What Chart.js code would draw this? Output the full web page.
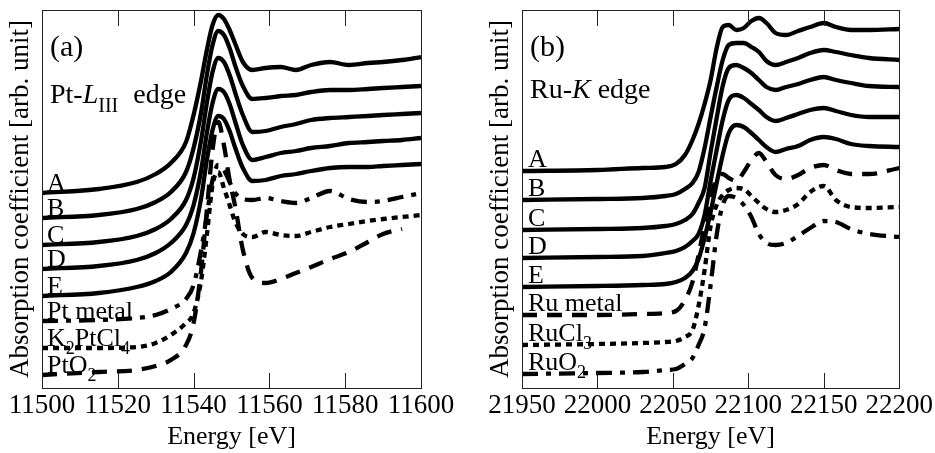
<!DOCTYPE html>
<html><head><meta charset="utf-8">
<script src="https://cdn.jsdelivr.net/npm/chart.js@4.4.0/dist/chart.umd.min.js"></script>
<style>
html,body{margin:0;padding:0;background:#fff;}
#wrap{position:relative;width:935px;height:453px;overflow:hidden;background:#fff;}
canvas{position:absolute;top:0;}
</style></head><body>
<div id="wrap">
<canvas id="c1" width="468" height="453" style="left:0;width:468px;height:453px"></canvas>
<canvas id="c2" width="467" height="453" style="left:468px;width:467px;height:453px"></canvas>
</div>
<script>
// ---------- Panel (a): Pt-LIII edge ----------
const ptEnergy = [11500, 11515, 11525, 11530, 11534, 11538, 11540, 11542, 11543.5, 11545, 11546.5, 11548, 11549.5, 11551, 11553, 11555.5, 11559, 11563, 11567, 11571, 11576, 11581, 11586, 11590, 11595, 11600];
const ptA = [195,199,206,214,225,246,273,308,338,363,373,369,358,344,326,318,320,321,318,323,326,323,325,326,328,331];
const ptB = [170,173,179,186,196,216,240,276,313,343,357,353,340,322,302,289,290,292,293,296,298,298,299,300,301,302];
const ptC = [143,146,152,159,169,188,210,248,285,316,330,326,313,295,273,256,257,261,264,268,270,271,272,273,274,275];
const ptD = [119,122,128,135,145,163,183,218,255,285,299,296,284,266,243,228,231,235,237,240,242,245,246,247,248,250];
const ptE = [92,95,101,107,116,135,155,190,228,258,272,269,257,240,220,207,208,212,214,217,220,221,221,222,223,224];
const ptMetal = [67,68,70,73,79,89,103,138,173,208,223,218,206,195,189,188,190,187,185,190,197,189,186,187,191,195];
const ptK2PtCl4 = [40,40,41,45,53,65,75,108,153,203,216,200,183,166,154,151,156,153,152,156,161,164,167,169,171,173];
const ptPtO2 = [13,16,18,22,28,43,65,118,178,238,266,243,208,181,138,110,105,109,115,121,129,136,146,154,159,null];
const ptTicks = [11500, 11520, 11540, 11560, 11580, 11600];
const ptNames = ['A','B','C','D','E','Pt metal','K2PtCl4','PtO2'];

// ---------- Panel (b): Ru-K edge ----------
const ruEnergy = [21950, 22000, 22030, 22045, 22052, 22058, 22063, 22067, 22071, 22075, 22079, 22083, 22087, 22092, 22097, 22102, 22107, 22112, 22118, 22125, 22133, 22141, 22150, 22158, 22168, 22180, 22200];
const ruA = [217,218,220,221,224,233,248,264,284,308,340,361,363,358,360,367,370,365,355,353,357,361,365,361,358,358,359];
const ruB = [188,189,190,192,194,199,205,216,240,271,301,328,343,345,345,341,336,327,323,326,330,335,338,336,333,330,328];
const ruC = [158,159,160,162,164,168,174,185,200,236,270,302,320,323,320,315,308,301,298,301,304,308,311,308,305,302,301];
const ruD = [130,131,132,135,137,141,147,154,173,207,238,268,288,293,290,284,278,271,267,270,274,278,280,277,273,271,271];
const ruE = [101,102,103,104,106,110,117,129,150,176,205,233,255,263,261,255,248,241,236,239,242,248,251,249,244,242,241];
const ruMetal = [73,73,74,75,77,88,106,133,163,190,210,214,210,207,216,228,235,226,213,209,213,220,223,218,214,214,220];
const ruRuCl3 = [43,44,45,46,47,51,58,82,118,162,183,193,198,200,199,192,185,179,176,178,184,196,202,188,181,180,181];
const ruRuO2 = [14,15,16,18,19,24,30,43,60,103,153,183,192,190,183,171,154,145,143,145,152,160,167,166,159,154,151];
const ruTicks = [21950, 22000, 22050, 22100, 22150, 22200];
const ruNames = ['A','B','C','D','E','Ru metal','RuCl3','RuO2'];

const FONT = "'Liberation Serif', 'Times New Roman', serif";
const SOLID = [];
const DASH = [15, 10];
const DOT = [6, 5];
const DASHDOT = [16, 8, 5, 8];

function series(energy, vals, dash) {
  return {
    data: energy.map((e, i) => ({x: e, y: vals[i]})),
    borderColor: '#000',
    borderWidth: 4.3,
    borderDash: dash,
    pointRadius: 0,
    fill: false,
    cubicInterpolationMode: 'monotone',
    spanGaps: false
  };
}

function drawRich(ctx, x, y, parts, base) {
  let cx = x;
  for (const p of parts) {
    const size = p.sub ? Math.round(base * 0.7) : base;
    ctx.font = (p.italic ? 'italic ' : '') + size + 'px ' + FONT;
    ctx.fillText(p.t, cx, y + (p.sub ? Math.round(base * 0.32) : 0));
    cx += ctx.measureText(p.t).width + (p.gap || 0);
  }
}
function nameParts(name) {
  const parts = [];
  const re = /(\d+|[^\d]+)/g; let m;
  while ((m = re.exec(name))) parts.push({t: m[1], sub: /\d/.test(m[1])});
  return parts;
}

function panelPlugin(cfg) {
  return {
    id: 'panel' + cfg.tag,
    beforeDatasetsDraw(chart) {
      const ctx = chart.ctx, ca = chart.chartArea, ys = chart.scales.y;
      ctx.save();
      ctx.fillStyle = '#000';
      ctx.textBaseline = 'alphabetic';
      ctx.textAlign = 'left';
      // series labels, placed at the level of each curve's first point
      chart.data.datasets.forEach((ds, i) => {
        const py = ys.getPixelForValue(ds.data[0].y) + cfg.labelDy;
        drawRich(ctx, ca.left + cfg.labelDx, py, nameParts(cfg.names[i]), 26);
      });
      // panel tag and edge name
      ctx.font = '30px ' + FONT;
      ctx.fillText(cfg.tag, ca.left + 8, ca.top + 46);
      drawRich(ctx, ca.left + 8, ca.top + cfg.edgeDy, cfg.edge, 28);
      ctx.restore();
    },
    afterDraw(chart) {
      const ctx = chart.ctx, ca = chart.chartArea, xs = chart.scales.x;
      ctx.save();
      ctx.strokeStyle = '#222';
      ctx.lineWidth = 1;
      ctx.strokeRect(Math.round(ca.left) + 0.5, Math.round(ca.top) + 0.5,
                     Math.round(ca.right - ca.left), Math.round(ca.bottom - ca.top));
      ctx.beginPath();
      xs.ticks.forEach((t, i) => {
        if (i === 0 || i === xs.ticks.length - 1) return;
        const px = Math.round(xs.getPixelForValue(t.value)) + 0.5;
        ctx.moveTo(px, ca.bottom); ctx.lineTo(px, ca.bottom - 15);
        ctx.moveTo(px, ca.top); ctx.lineTo(px, ca.top + 16);
      });
      ctx.stroke();
      ctx.restore();
    }
  };
}

function makeChart(id, energy, list, ticks, names, cfg) {
  const styles = [SOLID, SOLID, SOLID, SOLID, SOLID].concat(cfg.refStyles);
  return new Chart(document.getElementById(id), {
    type: 'line',
    data: { datasets: list.map((v, i) => series(energy, v, styles[i])) },
    options: {
      responsive: false, animation: false, devicePixelRatio: 1,
      layout: { padding: { left: cfg.padLeft, right: cfg.padRight, top: 10, bottom: 0 } },
      plugins: { legend: { display: false }, tooltip: { enabled: false } },
      scales: {
        x: {
          type: 'linear', min: ticks[0], max: ticks[ticks.length - 1],
          afterBuildTicks: (s) => { s.ticks = ticks.map(v => ({value: v})); },
          afterFit: (s) => { s.height = 65; },
          grid: { display: false, drawTicks: false },
          border: { display: false },
          ticks: { autoSkip: false, maxRotation: 0, padding: 2, color: '#000',
                   font: { family: FONT, size: 27 }, callback: (v) => String(v) },
          title: { display: true, text: 'Energy [eV]', color: '#000',
                   font: { family: FONT, size: 26 }, padding: 0 }
        },
        y: {
          min: 0, max: 378,
          afterFit: (s) => { s.width = 42; },
          grid: { display: false, drawTicks: false },
          border: { display: false },
          ticks: { display: false },
          title: { display: true, text: 'Absorption coefficient [arb. unit]', color: '#000',
                   font: { family: FONT, size: 27 }, padding: { top: 5, bottom: 0 } }
        }
      }
    },
    plugins: [panelPlugin(Object.assign({names: names}, cfg))]
  });
}

makeChart('c1', ptEnergy, [ptA, ptB, ptC, ptD, ptE, ptMetal, ptK2PtCl4, ptPtO2], ptTicks, ptNames, {
  tag: '(a)', padLeft: 0, padRight: 47, labelDx: 5, labelDy: -2, edgeDy: 93,
  refStyles: [DASHDOT, DOT, DASH],
  edge: [{t: 'Pt-'}, {t: 'L', italic: true}, {t: 'III', sub: true, gap: 8}, {t: ' edge'}]
});
makeChart('c2', ruEnergy, [ruA, ruB, ruC, ruD, ruE, ruMetal, ruRuCl3, ruRuO2], ruTicks, ruNames, {
  tag: '(b)', padLeft: 12, padRight: 34, labelDx: 6, labelDy: -4, edgeDy: 88,
  refStyles: [DASH, DOT, DASHDOT],
  edge: [{t: 'Ru-'}, {t: 'K', italic: true}, {t: ' edge'}]
});
</script>
</body></html>
